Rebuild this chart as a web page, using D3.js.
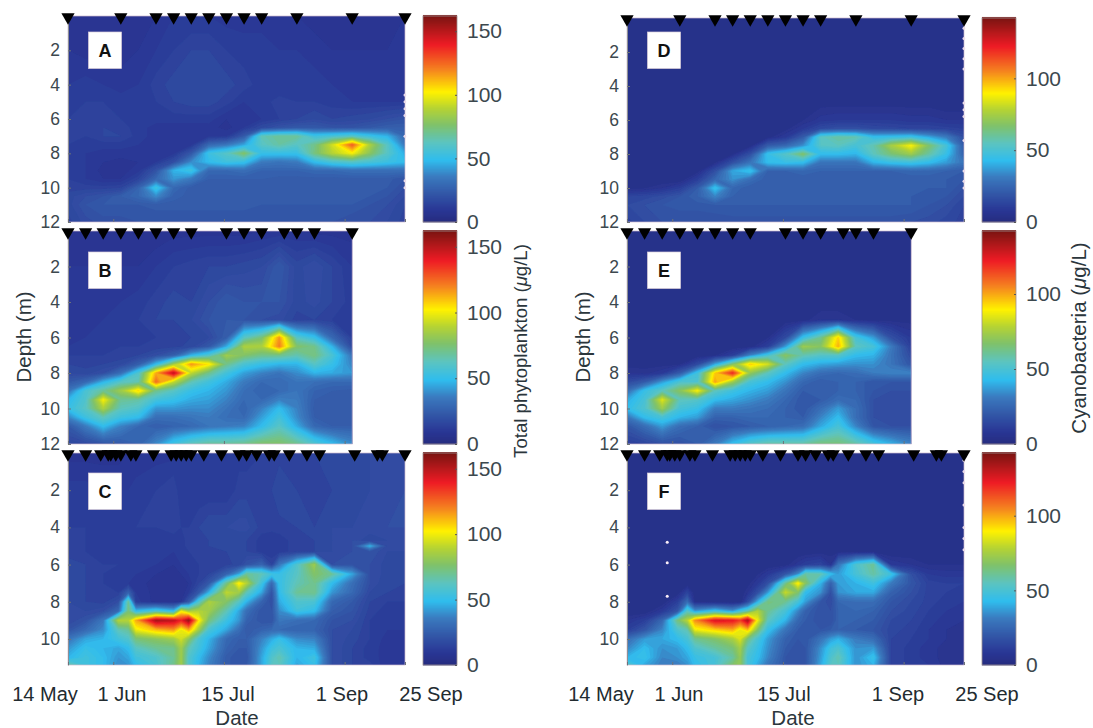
<!DOCTYPE html>
<html>
<head>
<meta charset="utf-8">
<script src="https://cdn.jsdelivr.net/npm/d3@7"></script>
<style>
  body { margin: 0; background: #fff; }
  svg { display: block; font-family: "Liberation Sans", Arial, sans-serif; }
</style>
</head>
<body>
<svg id="chart" width="1093" height="728"></svg>
<script>
// grid columns: days after 14 May
const gridDays = [0,7,14,21,28,35,42,49,56,63,70,77,84,91,98,105,113,120,127,134];
const gridDaysShort = gridDays.slice(0, 17);
const gridDaysC = [0,7,14,20,24,27,35,42,45,48,52,56,63,68,71,77,81,84,91,98,105,113,120,127,134];
// grid rows: depth in m
const gridDepths = [0,2,4,5,6,6.5,7,7.5,8,8.5,9,9.5,10,10.5,11,12];
const gridDepthsC = [0,2,4,4.7,5,5.3,6,6.5,7,7.5,8,8.5,9,9.5,10,10.5,11,11.4];

// sampling dates, days after 14 May (triangles on top of each panel)
const samplesTop = [0,21,35,42,49,56,63,70,77,91,113,134];
const samplesMid = [0,7,14,21,28,35,42,49,63,70,77,86,91,98,113];
const samplesBot = [0,7,13,16,17,19,21,25,27,34,41,43,45,47,49,54,61,68,71,75,80,82,88,95,100,114,123,125,134];

const xTickDays = [0,18,62,110,134];
const xTickNames = ["14 May","1 Jun","15 Jul","1 Sep","25 Sep"];
const depthTicks = [2,4,6,8,10,12];
const depthTicksC = [2,4,6,8,10];
const barTicksLeft = [0,50,100,150];
const barTicksRight = [0,50,100];

// total phytoplankton, ug/L
const valuesA = [
  [8,8,8,8,9,10,12,12,12,11,11,11,10,10,9,9,9,9,9,10],
  [10,9,9,9,10,12,14,16,16,14,13,13,12,12,11,10,10,10,10,10],
  [12,13,12,11,12,15,17,18,18,17,15,13,12,12,13,12,10,10,11,11],
  [13,14,14,13,13,14,16,17,17,15,12,13,15,14,14,13,12,12,12,12],
  [14,15,16,14,13,13,13,13,13,10,10,12,14,16,18,16,17,18,20,22],
  [14,15,16,15,13,11,11,11,11,9,12,18,22,24,24,22,22,24,26,26],
  [14,14,16,16,13,11,10,10,11,12,25,65,70,70,55,58,62,54,48,30],
  [14,13,13,13,12,10,10,11,30,35,45,62,68,62,72,95,128,88,62,35],
  [14,12,11,11,11,10,11,24,54,62,78,52,52,52,74,90,102,80,62,46],
  [14,12,10,9,10,12,20,40,50,55,52,36,34,36,50,58,62,58,54,50],
  [14,12,9,9,11,22,48,55,30,30,32,28,28,28,30,30,32,32,32,32],
  [14,12,10,10,16,30,42,35,26,26,26,26,25,25,25,25,25,25,25,22],
  [15,15,15,16,28,55,30,25,25,25,25,24,24,24,24,24,24,24,24,20],
  [17,20,22,26,30,40,27,25,25,25,25,24,24,24,24,24,24,24,22,18],
  [17,22,24,24,24,25,25,25,25,25,25,24,24,24,24,24,24,22,20,16],
  [15,19,21,21,22,22,22,22,22,22,22,22,22,22,22,22,20,20,18,15]
];
const valuesB = [
  [9,9,9,8,8,8,9,9,9,9,9,10,10,10,9,9,9],
  [10,10,10,10,10,12,14,15,16,16,17,18,24,17,20,16,12],
  [10,11,11,12,13,15,17,16,20,24,22,22,22,17,19,16,13],
  [10,11,12,13,14,16,16,18,22,24,22,20,19,15,16,14,12],
  [11,12,12,13,13,14,15,16,18,26,62,75,118,62,52,30,14],
  [12,13,13,14,14,14,15,17,24,46,88,88,122,78,72,48,18],
  [14,14,14,14,16,20,26,48,60,85,78,72,72,66,74,58,34],
  [16,15,16,18,26,50,85,118,105,72,58,52,48,48,62,52,38],
  [18,17,20,32,60,115,150,92,72,56,44,38,34,40,48,46,42],
  [24,30,48,62,66,125,92,65,55,46,36,30,30,34,32,30,30],
  [34,58,70,85,108,72,62,52,48,42,32,28,30,34,28,26,25],
  [48,60,102,70,68,56,52,46,44,38,30,30,38,36,26,24,24],
  [52,62,88,64,60,42,42,40,40,34,28,38,50,38,25,24,24],
  [38,54,64,54,50,32,32,34,36,32,30,44,56,40,26,24,24],
  [24,36,50,38,30,26,28,30,34,36,38,50,62,46,30,26,26],
  [16,18,22,24,28,40,55,65,70,70,72,78,78,72,60,50,40]
];
const valuesC = [
  [9,9,9,9,10,10,11,11,12,12,12,13,13,13,13,14,14,15,15,16,17,17,18,18,18],
  [13,13,12,12,12,13,14,16,12,12,12,12,12,15,15,14,16,18,16,15,16,16,18,18,20],
  [14,14,13,13,13,14,14,16,14,14,16,18,18,19,19,15,15,15,16,16,18,18,20,20,20],
  [15,14,13,13,13,13,13,12,13,15,15,16,16,16,16,13,12,13,15,16,18,20,16,18,18],
  [15,14,13,13,13,13,13,12,13,15,15,16,16,16,16,13,12,13,15,16,18,20,48,18,18],
  [15,14,13,13,13,13,13,12,13,14,15,15,16,16,16,13,12,13,15,16,18,20,22,18,18],
  [17,16,14,14,13,12,12,10,12,13,14,14,15,17,22,28,16,35,60,85,20,22,20,17,16],
  [17,16,14,13,12,12,10,9,10,12,14,16,28,45,70,65,55,52,62,78,70,45,20,17,16],
  [17,16,14,13,12,11,9,8,8,10,16,24,72,105,90,55,30,52,65,72,50,32,20,16,16],
  [18,16,14,14,28,12,9,8,8,12,24,48,92,85,65,45,22,50,70,72,42,30,18,16,15],
  [18,16,15,20,70,13,9,9,10,24,60,88,78,62,48,28,20,46,60,58,30,24,16,14,14],
  [18,18,20,30,75,50,60,50,100,85,90,85,65,45,32,22,22,40,55,50,26,22,15,13,13],
  [18,22,35,90,90,115,155,150,140,158,105,75,54,42,28,22,22,35,32,30,22,20,14,12,12],
  [22,30,40,65,70,100,112,118,100,115,85,58,45,32,24,28,30,30,28,28,20,18,14,12,12],
  [34,45,48,55,60,75,80,85,95,80,58,48,30,26,26,38,46,52,40,38,20,17,14,11,11],
  [42,52,48,45,50,62,70,72,85,65,55,45,28,24,24,42,54,58,48,46,20,16,13,11,11],
  [48,55,50,42,45,55,60,70,85,60,50,40,25,22,22,45,60,66,48,55,20,16,13,11,11],
  [68,55,50,40,42,50,58,72,85,60,48,38,25,22,24,45,62,64,45,52,20,16,15,10,10]
];
// cyanobacteria, ug/L
const valuesD = [
  [4,4,4,4,4,4,4,4,4,4,4,4,4,4,4,4,4,4,4,4],
  [4,4,4,4,4,4,4,4,4,4,4,4,4,4,4,4,4,4,4,4],
  [4,4,4,4,4,4,4,4,4,4,4,4,4,4,4,4,4,4,4,4],
  [4,4,4,4,4,4,4,4,4,4,4,5,5,5,5,5,5,5,4,4],
  [4,4,4,4,4,4,4,4,4,4,6,9,10,10,10,10,9,9,8,8],
  [4,4,4,4,4,4,4,4,4,5,10,16,18,18,16,15,14,14,13,12],
  [4,4,4,4,4,4,4,4,5,10,22,55,60,58,45,46,48,40,32,18],
  [4,4,4,4,4,4,4,5,22,26,36,54,56,50,58,76,90,68,50,22],
  [4,4,4,4,4,4,6,18,46,54,68,44,44,42,56,66,74,60,46,24],
  [4,4,4,4,4,6,18,30,44,46,44,30,30,30,42,46,48,44,38,30],
  [4,4,4,4,5,18,40,46,24,24,26,24,24,24,24,24,26,26,24,22],
  [4,4,4,4,12,26,36,28,22,22,22,22,22,22,22,22,22,22,22,20],
  [5,6,8,12,22,46,26,22,22,22,22,22,22,22,22,22,22,22,22,18],
  [14,15,17,20,24,34,24,22,22,22,22,22,22,22,22,22,22,21,20,16],
  [16,18,20,21,21,22,22,22,22,22,22,22,22,22,22,22,22,20,18,14],
  [13,16,18,18,18,18,19,19,19,19,19,19,19,19,19,19,18,17,15,13]
];
const valuesE = [
  [4,4,4,4,4,4,4,4,4,4,4,4,4,4,4,4,4],
  [4,4,4,4,4,4,4,4,4,4,4,4,4,4,4,4,4],
  [4,4,4,4,4,4,4,4,4,4,4,4,4,4,4,4,4],
  [4,4,4,4,4,4,4,4,4,4,5,8,8,6,5,5,5],
  [4,4,4,4,4,4,4,4,6,16,46,62,95,50,38,18,10],
  [4,4,4,4,4,4,4,5,12,38,74,70,100,56,50,32,12],
  [4,4,4,4,4,6,12,34,50,70,58,54,54,44,42,30,16],
  [5,5,5,6,16,40,68,96,84,56,44,40,38,36,36,30,20],
  [8,7,10,22,48,96,122,72,56,44,34,28,26,28,32,34,34],
  [16,22,38,52,52,102,74,50,44,36,26,22,24,24,20,20,20],
  [28,46,56,70,90,56,48,42,38,30,22,22,24,24,20,18,18],
  [40,50,86,56,54,44,40,36,32,26,20,22,28,26,18,17,17],
  [44,52,74,50,46,32,32,30,28,24,20,28,38,28,18,17,17],
  [30,44,50,42,38,24,24,26,26,24,22,34,44,28,18,17,17],
  [20,28,38,28,24,18,20,22,24,26,28,40,50,34,20,18,18],
  [12,14,18,18,22,32,45,55,60,60,60,66,66,60,50,42,34]
];
const valuesF = [
  [4,4,4,4,4,4,4,4,4,4,4,4,4,4,4,4,4,4,4,4,4,4,4,4,4],
  [4,4,4,4,4,4,4,4,4,4,4,4,4,4,4,4,4,4,4,4,4,4,4,4,4],
  [4,4,4,4,4,4,4,4,4,4,4,4,4,4,4,4,4,4,4,4,4,4,4,4,4],
  [4,4,4,4,4,4,4,4,4,4,4,4,4,4,4,4,4,4,4,4,4,4,4,4,4],
  [4,4,4,4,4,4,4,4,4,4,4,4,4,4,4,4,4,4,4,4,4,4,4,4,4],
  [4,4,4,4,4,4,4,4,4,4,4,4,4,4,4,5,5,5,5,5,4,4,4,4,4],
  [4,4,4,4,4,4,4,4,4,4,4,4,5,9,12,14,8,30,52,62,10,8,6,6,6],
  [4,4,4,4,4,4,4,4,4,4,6,10,20,36,60,58,45,38,50,60,48,18,10,9,9],
  [4,4,4,4,4,4,4,4,4,5,10,18,62,92,70,42,24,38,42,48,32,20,13,12,12],
  [4,4,4,4,14,4,4,4,4,8,18,38,82,68,44,36,18,36,40,40,24,18,13,12,11],
  [4,4,4,12,28,6,4,4,4,16,42,65,62,50,38,20,16,26,28,28,20,16,13,11,10],
  [4,4,10,20,55,38,48,38,50,58,78,62,50,34,24,18,18,24,26,24,18,15,12,10,9],
  [8,12,26,65,80,105,128,125,118,135,88,56,42,26,22,18,18,24,24,22,16,14,11,9,8],
  [12,20,34,52,58,88,95,100,88,98,68,46,30,22,20,20,22,24,22,20,15,13,10,8,7],
  [28,38,40,44,50,62,68,76,85,65,50,38,24,20,20,30,38,42,32,28,14,12,10,8,7],
  [34,44,36,38,44,52,60,66,75,55,46,36,22,18,20,36,48,52,36,38,14,11,9,7,7],
  [42,46,34,36,40,46,50,60,72,50,44,34,20,18,20,38,52,58,36,46,14,11,9,7,7],
  [54,40,32,32,36,44,50,68,72,50,40,30,20,18,20,40,54,56,36,42,14,11,10,7,7]
];

// white gaps along the right edge and inside F, [day, depth]
const gapsA = [[134,4.6],[134,5],[134,5.4],[134,5.8],[134,7],[134,9.6],[134,10]];
const gapsD = [[134,0.6],[134,1.2],[134,1.8],[134,2.4],[134,3],[134,5],[134,5.4],[134,5.8],[134,7.2],[134,9],[134,9.6],[134,10]];
const gapsF = [[16,4.8],[16,5.9],[16,7.7],[134,0.4],[134,1],[134,1.6],[134,2.8],[134,4],[134,4.6],[134,5.2]];

const barMaxLeft = 162;
const barMaxRight = 142;

// colormap stops, position is fraction of the bar height
const stopPos = [0,0.06,0.14,0.22,0.30,0.385,0.47,0.55,0.63,0.74,0.86,1];
const stopCol = ["#262c80","#2a3896","#3358a8","#3b7bbf","#30bdee","#5cc4c0","#7fc26b","#b5d334","#fff200","#f58220","#ee1c25","#7a1512"];

const svg = d3.select("#chart");
const defs = svg.append("defs");
defs.append("filter").attr("id", "soft")
    .attr("x", "-5%").attr("y", "-5%").attr("width", "110%").attr("height", "110%")
  .append("feGaussianBlur").attr("stdDeviation", 0.5);

const gray = "#3c484e";
const fraction = d3.scaleLinear().domain(stopPos).range(stopCol).interpolate(d3.interpolateRgb);

function drawPanel(p){
    const x = d3.scaleLinear().domain([0, 134]).range([p.x0, p.x0 + 337]);
    const y = d3.scaleLinear().domain([0, p.depthMax]).range([p.y0, p.y1]);
    const n = p.days.length, m = p.depths.length;
    const flat = p.values.flat();

    // d3.contours places a value at index + 0.5, map that onto the real day / depth
    const dayAt = d3.scaleLinear().domain(d3.range(n).map(i => i + 0.5)).range(p.days).clamp(true);
    const depthAt = d3.scaleLinear().domain(d3.range(m).map(i => i + 0.5)).range(p.depths).clamp(true);
    const path = d3.geoPath(d3.geoTransform({
        point(u, v){ this.stream.point(x(dayAt(u)), y(depthAt(v))); }
    }));

    const thresholds = d3.range(0, p.barMax, 2);
    const contours = d3.contours().size([n, m]).thresholds(thresholds)(flat);

    const clipId = "clip" + p.label;
    const xEnd = x(p.days[n - 1]);
    defs.append("clipPath").attr("id", clipId).append("rect")
        .attr("x", p.x0).attr("y", p.y0).attr("width", xEnd - p.x0).attr("height", p.y1 - p.y0);

    const g = svg.append("g").attr("clip-path", `url(#${clipId})`);
    const heat = g.append("g").attr("id", "heat" + p.label);
    heat.selectAll("path").data(contours).enter().append("path")
        .attr("d", path)
        .attr("fill", d => fraction(d.value / p.barMax));
    g.append("use").attr("href", "#heat" + p.label).attr("filter", "url(#soft)");

    svg.append("g").selectAll("circle").data(p.gaps || []).enter().append("circle")
        .attr("cx", d => x(d[0])).attr("cy", d => y(d[1])).attr("r", 1.5)
        .attr("fill", "#fbeef8");

    svg.append("rect").attr("x", p.x0).attr("y", p.y0).attr("width", xEnd - p.x0).attr("height", p.y1 - p.y0)
        .attr("fill", "none").attr("stroke", "#cdb9cf").attr("stroke-width", 0.7);

    // axes
    const yAxis = d3.axisLeft(y).tickValues(p.yTicks).tickSizeInner(-3).tickSizeOuter(0).tickPadding(8);
    const ya = svg.append("g").attr("transform", `translate(${p.x0},0)`).call(yAxis);
    ya.selectAll("text").attr("font-size", 17.5).attr("fill", gray);
    ya.selectAll("line").attr("stroke", "#6d7378");
    ya.select(".domain").attr("stroke", "#8d8f94");

    const xAxis = d3.axisBottom(x).tickValues(xTickDays.filter(d => d <= p.days[n - 1])).tickFormat("").tickSizeInner(-3).tickSizeOuter(0);
    const xa = svg.append("g").attr("transform", `translate(0,${p.y1})`).call(xAxis);
    xa.selectAll("line").attr("stroke", "#6d7378");
    xa.select(".domain").remove();

    // sampling triangles
    svg.append("g").selectAll("path").data(p.samples).enter().append("path")
        .attr("d", d3.symbol(d3.symbolTriangle, 76))
        .attr("transform", d => `translate(${x(d)},${p.y0 + 1}) rotate(180)`)
        .attr("fill", "#000");

    // panel letter
    svg.append("rect").attr("x", p.x0 + 20.5).attr("y", p.y0 + p.boxDy).attr("width", 33).attr("height", 36.5)
        .attr("fill", "#fff").attr("stroke", "#d9cdd9").attr("stroke-width", 0.7);
    svg.append("text").attr("x", p.x0 + 37).attr("y", p.y0 + p.boxDy + 25)
        .attr("text-anchor", "middle").attr("font-size", 18).attr("font-weight", "bold")
        .attr("fill", "#111").text(p.label);

    // colorbar
    const c = d3.scaleLinear().domain([0, p.barMax]).range([p.y1, p.y0]);
    const steps = d3.range(0, p.barMax, p.barMax / 212);
    svg.append("g").selectAll("rect").data(steps).enter().append("rect")
        .attr("x", p.barX).attr("width", 34)
        .attr("y", d => c(d) - 2).attr("height", 2.4)
        .attr("fill", d => fraction(d / p.barMax));
    svg.append("rect").attr("x", p.barX).attr("y", p.y0).attr("width", 34).attr("height", p.y1 - p.y0)
        .attr("fill", "none").attr("stroke", "#9b8f8f").attr("stroke-width", 0.8);
    const cAxis = d3.axisRight(c).tickValues(p.barTicks).tickSizeInner(-2).tickSizeOuter(0).tickPadding(10);
    const ca = svg.append("g").attr("transform", `translate(${p.barX + 34},0)`).call(cAxis);
    ca.selectAll("text").attr("font-size", 21).attr("fill", gray);
    ca.selectAll("line").attr("stroke", "#555");
    ca.select(".domain").remove();
}

const leftRows = [
    {label:"A", values:valuesA, days:gridDays, depths:gridDepths, depthMax:12, samples:samplesTop, y0:16, y1:222, yTicks:depthTicks, boxDy:16, gaps:gapsA},
    {label:"B", values:valuesB, days:gridDaysShort, depths:gridDepths, depthMax:12, samples:samplesMid, y0:231, y1:444, yTicks:depthTicks, boxDy:21},
    {label:"C", values:valuesC, days:gridDaysC, depths:gridDepthsC, depthMax:11.4, samples:samplesBot, y0:453, y1:665, yTicks:depthTicksC, boxDy:20}
];
const rightRows = [
    {label:"D", values:valuesD, days:gridDays, depths:gridDepths, depthMax:12, samples:samplesTop, y0:18, y1:222, yTicks:depthTicks, boxDy:14, gaps:gapsD},
    {label:"E", values:valuesE, days:gridDaysShort, depths:gridDepths, depthMax:12, samples:samplesMid, y0:231, y1:444, yTicks:depthTicks, boxDy:21},
    {label:"F", values:valuesF, days:gridDaysC, depths:gridDepthsC, depthMax:11.4, samples:samplesBot, y0:453, y1:665, yTicks:depthTicksC, boxDy:20, gaps:gapsF}
];
leftRows.forEach(r => drawPanel({...r, x0:68, barX:423, barMax:barMaxLeft, barTicks:barTicksLeft}));
rightRows.forEach(r => drawPanel({...r, x0:627, barX:982, barMax:barMaxRight, barTicks:barTicksRight}));

// date labels sit off their ticks in the original
const dateLabelLeft = [45,122,228,342,431];
const dateLabelRight = [601,679,784,898,987];
[dateLabelLeft, dateLabelRight].forEach(pos => {
    svg.append("g").selectAll("text").data(xTickNames).enter().append("text")
        .attr("x", (d, i) => pos[i]).attr("y", 701)
        .attr("text-anchor", "middle").attr("font-size", 20).attr("fill", "#222b30")
        .text(d => d);
});
function axisTitle(x, y, rotate, parts, size){
    const t = svg.append("text").attr("text-anchor", "middle").attr("font-size", size).attr("fill", "#2b363c")
        .attr("transform", `translate(${x},${y}) rotate(${rotate})`);
    parts.forEach(q => t.append("tspan").attr("font-style", q[1] ? "italic" : "normal").text(q[0]));
}
axisTitle(237, 725, 0, [["Date"]], 20.5);
axisTitle(793, 725, 0, [["Date"]], 20.5);
axisTitle(31, 337, -90, [["Depth (m)"]], 20.5);
axisTitle(590, 337, -90, [["Depth (m)"]], 20.5);
axisTitle(527, 351, -90, [["Total phytoplankton ("],["μ",true],["g/L)"]], 18.6);
axisTitle(1086, 338, -90, [["Cyanobacteria ("],["μ",true],["g/L)"]], 20.5);
</script>
</body>
</html>
